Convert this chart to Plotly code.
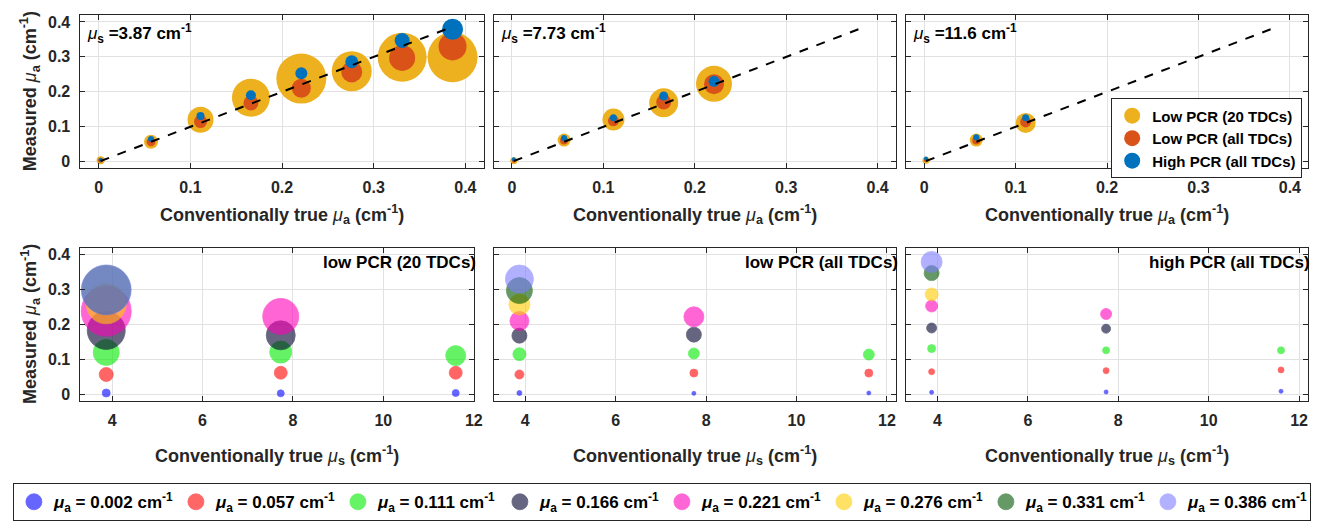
import plotly.graph_objects as go

W, H = 1338, 523

# ---------------- data ----------------
mua_true = [0.002, 0.057, 0.111, 0.166, 0.221, 0.276, 0.331, 0.386]
mus_true = [3.87, 7.73, 11.6]
mus_labels = ["3.87", "7.73", "11.6"]

# measured mu_a (cm-1) per mu_s phantom set
low20_mua = [
    [0.004, 0.057, 0.120, 0.183, 0.238, 0.259, 0.299, 0.299],
    [0.003, 0.062, 0.121, 0.169, 0.223],
    [0.004, 0.062, 0.111],
]
low20_size = [
    [8, 14, 26, 38, 50, 40, 49, 50],
    [7, 13, 22, 29, 36],
    [7, 13, 20],
]
lowall_mua = [
    [0.004, 0.057, 0.115, 0.168, 0.210, 0.257, 0.297, 0.330],
    [0.003, 0.061, 0.117, 0.171, 0.222],
    [0.004, 0.061, 0.114],
]
lowall_size = [
    [5, 9, 13, 15, 19, 21, 26, 28],
    [4, 8, 11, 15, 20],
    [4, 8, 11],
]
high_mua = [
    [0.006, 0.065, 0.131, 0.190, 0.253, 0.286, 0.347, 0.379],
    [0.007, 0.068, 0.126, 0.188, 0.230],
    [0.009, 0.070, 0.126],
]
high_size = [
    [4, 6, 8, 10, 12, 13, 15, 21],
    [4, 6, 7, 9, 11],
    [4, 6, 7],
]

series_names = ["Low PCR (20 TDCs)", "Low PCR (all TDCs)", "High PCR (all TDCs)"]
series_colors = ["#EDB120", "#D95319", "#0072BD"]
panel_titles = ["low PCR (20 TDCs)", "low PCR (all TDCs)", "high PCR (all TDCs)"]
mua_colors = ["rgb(0,0,255)", "rgb(255,0,0)", "rgb(0,235,0)", "rgb(0,0,45)",
              "rgb(255,0,185)", "rgb(255,205,0)", "rgb(0,85,0)", "rgb(125,125,255)"]

series_mua = [low20_mua, lowall_mua, high_mua]
series_size = [low20_size, lowall_size, high_size]

FONT = "Liberation Sans, Arial, Helvetica, sans-serif"
INK = "#262626"


def px_x(x):
    return x / W


def px_y(y):
    return 1 - y / H


fig = go.Figure()

# ---------------- top row ----------------
for j in range(3):
    n = len(series_mua[0][j])
    xs = mua_true[:n]
    ax = "" if j == 0 else str(j + 1)
    for s in range(3):
        fig.add_trace(go.Scatter(
            x=xs, y=series_mua[s][j], mode="markers",
            marker=dict(size=series_size[s][j], color=series_colors[s], opacity=1,
                        line=dict(width=0)),
            xaxis="x" + ax, yaxis="y" + ax, showlegend=False, hoverinfo="x+y"))
    fig.add_trace(go.Scatter(
        x=[min(mua_true), max(mua_true)], y=[min(mua_true), max(mua_true)],
        mode="lines", line=dict(color="black", width=2, dash="dash"),
        xaxis="x" + ax, yaxis="y" + ax, showlegend=False, hoverinfo="skip"))

# legend entries (top)
for s in range(3):
    fig.add_trace(go.Scatter(
        x=[None], y=[None], mode="markers", name=series_names[s],
        marker=dict(size=16, color=series_colors[s], opacity=1),
        xaxis="x3", yaxis="y3", legend="legend"))

# ---------------- bottom row ----------------
for p in range(3):
    ax = str(p + 4)
    for k in range(len(mua_true)):
        xs, ys, ss = [], [], []
        for j in range(3):
            if k < len(series_mua[p][j]):
                xs.append(mus_true[j])
                ys.append(series_mua[p][j][k])
                ss.append(series_size[p][j][k])
        fig.add_trace(go.Scatter(
            x=xs, y=ys, mode="markers",
            marker=dict(size=ss, color=mua_colors[k], opacity=0.6,
                        line=dict(width=0.8, color=mua_colors[k])),
            xaxis="x" + ax, yaxis="y" + ax, showlegend=False, hoverinfo="x+y"))

for k in range(len(mua_true)):
    fig.add_trace(go.Scatter(
        x=[None], y=[None], mode="markers",
        name=f"<i>μ</i><sub>a</sub> = {mua_true[k]:.3f} cm<sup>-1</sup>",
        marker=dict(size=16, color=mua_colors[k], opacity=0.6,
                    line=dict(width=0.8, color=mua_colors[k])),
        xaxis="x6", yaxis="y6", legend="legend2"))

# ---------------- axes ----------------
top_cols = [(81, 487), (497, 902), (912, 1317)]
bot_cols = [(81, 477), (497, 902), (912, 1317)]
top_row = (14, 168)
bot_row = (248, 402)


def axis_common():
    return dict(ticks="inside", ticklen=5, tickcolor=INK, showline=True, linecolor=INK,
                linewidth=1, mirror="ticks", showgrid=True, gridcolor="#e2e2e2", gridwidth=1,
                zeroline=False, tickfont=dict(family=FONT, size=16, color=INK, weight="bold"))


layout_axes = {}
for i in range(6):
    top = i < 3
    c = (top_cols if top else bot_cols)[i % 3]
    r = top_row if top else bot_row
    name = "" if i == 0 else str(i + 1)
    xd = axis_common()
    xd.update(domain=[px_x(c[0]), px_x(c[1])], anchor="y" + name, ticklabelstandoff=5)
    if top:
        xd.update(range=[-0.02, 0.42], dtick=0.1, tick0=0)
    else:
        xd.update(range=[3.3, 12.0] if i == 3 else [3.3, 12.2], dtick=2, tick0=0)
    yd = axis_common()
    yd.update(domain=[px_y(r[1]), px_y(r[0])], anchor="x" + name,
              range=[-0.018, 0.42], dtick=0.1, tick0=0, ticklabelstandoff=6,
              showticklabels=(i % 3 == 0))
    layout_axes["xaxis" + name] = xd
    layout_axes["yaxis" + name] = yd

# ---------------- annotations ----------------
ann = []
title_font = dict(family=FONT, size=18, color=INK)
for j in range(3):
    c = top_cols[j]
    ann.append(dict(
        text="<b>Conventionally true </b><i>μ</i><b><sub>a</sub> (cm<sup>-1</sup>)</b>",
        x=px_x((c[0] + c[1]) / 2), y=px_y(215), xref="paper", yref="paper",
        xanchor="center", yanchor="middle", showarrow=False, font=title_font))
    ann.append(dict(
        text=f"<i>μ</i><b><sub>s</sub> ={mus_labels[j]} cm<sup>-1</sup></b>",
        x=px_x(c[0] + 5), y=px_y(33), xref="paper", yref="paper",
        xanchor="left", yanchor="middle", showarrow=False,
        font=dict(family=FONT, size=17, color="black")))
for p in range(3):
    c = bot_cols[p]
    ann.append(dict(
        text="<b>Conventionally true </b><i>μ</i><b><sub>s</sub> (cm<sup>-1</sup>)</b>",
        x=px_x((c[0] + c[1]) / 2), y=px_y(457), xref="paper", yref="paper",
        xanchor="center", yanchor="middle", showarrow=False, font=title_font))
    ann.append(dict(
        text=f"<b>{panel_titles[p]}</b>",
        x=px_x(c[1] + 4), y=px_y(263), xref="paper", yref="paper",
        xanchor="right", yanchor="middle", showarrow=False,
        font=dict(family=FONT, size=17, color="black")))
for r in (top_row, bot_row):
    ann.append(dict(
        text="<b>Measured </b><i>μ</i><b><sub>a</sub> (cm<sup>-1</sup>)</b>",
        x=px_x(30), y=px_y((r[0] + r[1]) / 2), xref="paper", yref="paper",
        xanchor="center", yanchor="middle", textangle=-90, showarrow=False,
        font=title_font))

fig.update_layout(
    width=W, height=H,
    margin=dict(l=0, r=0, t=0, b=0),
    paper_bgcolor="white", plot_bgcolor="white",
    font=dict(family=FONT, color=INK),
    annotations=ann,
    legend=dict(x=px_x(1311), y=px_y(98), xanchor="right", yanchor="top",
                bgcolor="white", bordercolor=INK, borderwidth=1,
                font=dict(family=FONT, size=15, color="black", weight="bold"),
                itemsizing="trace", itemwidth=30, tracegroupgap=0),
    legend2=dict(orientation="h", x=px_x(13), y=px_y(485), xanchor="left", yanchor="top",
                 bgcolor="white", bordercolor=INK, borderwidth=1,
                 font=dict(family=FONT, size=17, color="black", weight="bold"),
                 itemsizing="trace", entrywidth=117, entrywidthmode="pixels"),
    **layout_axes,
)

fig.write_html("out.html", config={"displayModeBar": False},
               post_script="document.body.style.margin='0px';")
